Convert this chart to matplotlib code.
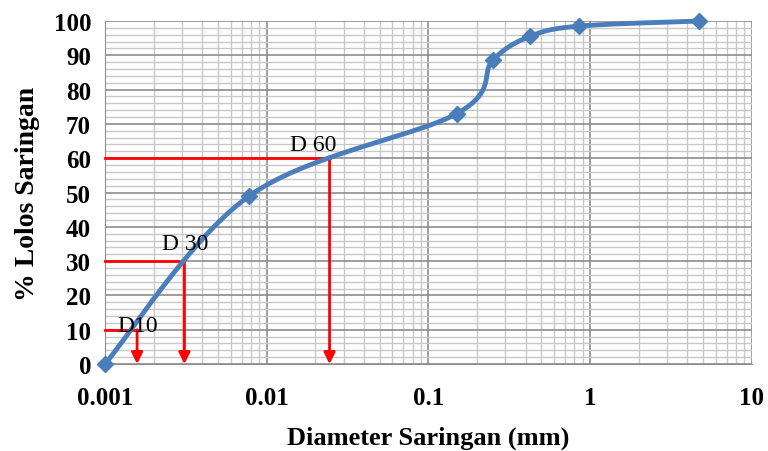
import numpy as np
import matplotlib
matplotlib.use("Agg")
import matplotlib.pyplot as plt
from matplotlib.ticker import FixedLocator, MultipleLocator, NullFormatter, LogLocator

# Data
diameter_mm = [0.001, 0.0078, 0.15, 0.25, 0.425, 0.85, 4.75]
percent_passing = [0, 49, 73, 88.5, 95.5, 98.5, 100]

d_labels = ["D10", "D 30", "D 60"]
d_percent = [10, 30, 60]
d_diam = [0.00158, 0.0031, 0.0245]

x_ticks = [0.001, 0.01, 0.1, 1, 10]
x_ticklabels = ["0.001", "0.01", "0.1", "1", "10"]
y_ticks = list(range(0, 101, 10))

serif = ["Liberation Serif", "DejaVu Serif"]

fig = plt.figure(figsize=(7.68, 4.52), dpi=100)
ax = fig.add_axes([0.1367, 0.1925, 0.842, 0.7588])
ax.set_xscale("log")
ax.set_xlim(0.001, 10)
ax.set_ylim(0, 100)

# Smooth curve (Excel-like Bezier smoothing in display-proportional space)
lx = np.log10(diameter_mm)
yy = np.array(percent_passing, dtype=float)
px = lx * 162.0
py = yy * 3.43
pts = np.column_stack([px, py])
n = len(pts)
curve = []
for i in range(n - 1):
    p0 = pts[i - 1] if i > 0 else pts[i]
    p1 = pts[i]
    p2 = pts[i + 1]
    p3 = pts[i + 2] if i + 2 < n else pts[i + 1]
    c1 = p1 + (p2 - p0) / 6.0
    c2 = p2 - (p3 - p1) / 6.0
    t = np.linspace(0, 1, 60)[:, None]
    seg = (1 - t) ** 3 * p1 + 3 * (1 - t) ** 2 * t * c1 + 3 * (1 - t) * t ** 2 * c2 + t ** 3 * p2
    curve.append(seg if i == 0 else seg[1:])
curve = np.vstack(curve)
cx = 10 ** (curve[:, 0] / 162.0)
cy = curve[:, 1] / 3.43

blue = "#4A7EBB"
ax.plot(cx, cy, color=blue, lw=3.5, zorder=4, clip_on=False, solid_capstyle="round")
ax.plot(diameter_mm, percent_passing, linestyle="none", marker="D", ms=8,
        color=blue, zorder=5, clip_on=False)

# D lines
for p, d in zip(d_percent, d_diam):
    ax.plot([0.001, d], [p, p], color="#FF0000", lw=2, zorder=3, clip_on=False)
    ax.annotate("", xy=(d, 0), xytext=(d, p),
                arrowprops=dict(arrowstyle="-|>", color="#FF0000", lw=2,
                                mutation_scale=17, shrinkA=0, shrinkB=0),
                zorder=3)

label_pos = [(0.00119, 9.6), (0.00225, 33.5), (0.0139, 62.5)]
for lab, (lxp, lyp) in zip(d_labels, label_pos):
    ax.text(lxp, lyp, lab, fontsize=17, family=serif, ha="left", va="baseline", zorder=6)

# Grid
ax.xaxis.set_major_locator(FixedLocator(x_ticks))
ax.xaxis.set_minor_locator(LogLocator(base=10, subs=np.arange(2, 10)))
ax.xaxis.set_minor_formatter(NullFormatter())
ax.set_xticklabels(x_ticklabels)
ax.yaxis.set_major_locator(FixedLocator(y_ticks))
ax.yaxis.set_minor_locator(MultipleLocator(2))
ax.grid(which="major", color="#8C8C8C", lw=1.2)
ax.grid(which="minor", color="#C8C8C8", lw=1.0)
ax.set_axisbelow(True)

ax.tick_params(which="both", length=0)
ax.tick_params(axis="x", pad=16)
ax.tick_params(axis="y", pad=10)
for lab in ax.get_xticklabels() + ax.get_yticklabels():
    lab.set_fontfamily(serif)
    lab.set_fontweight("bold")
    lab.set_fontsize(18)

for s in ["top", "right"]:
    ax.spines[s].set_visible(False)
for s in ["left", "bottom"]:
    ax.spines[s].set_color("#8C8C8C")

ax.set_xlabel("Diameter Saringan (mm)", family=serif, fontweight="bold", fontsize=19, labelpad=12)
ax.set_ylabel("% Lolos Saringan", family=serif, fontweight="bold", fontsize=20, labelpad=10)

fig.savefig("out.png", dpi=100)
